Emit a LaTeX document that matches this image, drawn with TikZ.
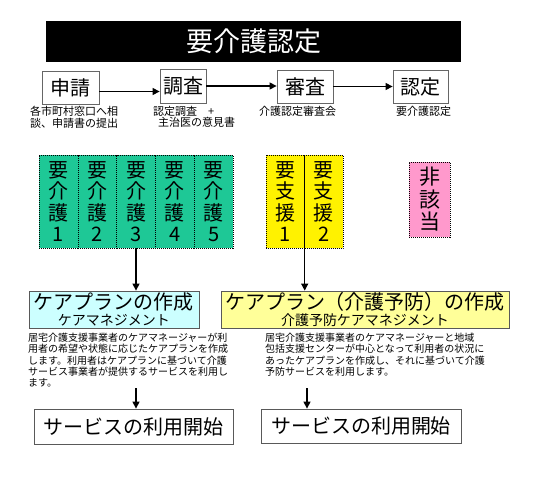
\documentclass[tikz,border=0pt]{standalone}
\usepackage{fontspec}
\setmainfont{Noto Sans CJK JP}
\usetikzlibrary{arrows.meta, positioning}

\definecolor{kaigogreen}{RGB}{30,200,150}
\definecolor{higaipink}{RGB}{255,153,204}
\definecolor{plancyan}{RGB}{204,255,255}
\definecolor{planyellow}{RGB}{255,255,153}

\begin{document}
\begin{tikzpicture}[x=1pt, y=-1pt, >={Triangle[length=7pt,width=7pt]},
    stepbox/.style={draw=black!60, line width=0.8pt, fill=white, inner sep=0pt, minimum height=33pt, font=\fontsize{20}{20}\selectfont},
    note/.style={inner sep=0pt, align=left, anchor=north west, font=\fontsize{11}{11.5}\selectfont},
    levelbox/.style={draw, dash pattern=on 1pt off 1pt, inner sep=0pt, minimum height=93pt, align=center, font=\fontsize{20}{21.5}\selectfont},
    planbox/.style={draw=black!65, line width=0.8pt, inner sep=0pt, minimum height=37pt, align=center, font=\fontsize{20}{16}\selectfont},
    desc/.style={inner sep=0pt, align=left, anchor=north west, font=\fontsize{10}{11.3}\selectfont},
    servicebox/.style={draw=black!65, line width=0.8pt, fill=white, inner sep=0pt, minimum height=35pt, font=\fontsize{20}{20}\selectfont},
    arr/.style={->, line width=1.3pt}]
    \useasboundingbox (0,0) rectangle (550,479);

    \node[fill=black, text=white, minimum width=415pt, minimum height=41pt, inner sep=0pt, font=\fontsize{27}{27}\selectfont] (title) at (253.5,41.5) {要介護認定};

    \node[stepbox, minimum width=57pt] (shinsei) at (70.5,87.5) {申請};
    \node[stepbox, minimum width=46pt, minimum height=34pt] (chousa) at (183,86) {調査};
    \node[stepbox, minimum width=56pt] (shinsa) at (305,86.5) {審査};
    \node[stepbox, minimum width=55pt] (nintei) at (420.5,86.5) {認定};

    \path ([yshift=-4pt]shinsei.east) coordinate (a1);
    \draw[arr] (a1) -- (a1 -| chousa.west);
    \draw[arr] (chousa.east) -- (chousa.east -| shinsa.west);
    \draw[arr] (shinsa.east) -- (shinsa.east -| nintei.west);

    \node[note] (n1) at (30,106) {各市町村窓口へ相\\談、申請書の提出};
    \node[note] (n2) at (153,106) {認定調査　+\\\hspace{5pt}主治医の意見書};
    \node[note] (n3) at (259,106) {介護認定審査会};
    \node[note] (n4) at (396,106) {要介護認定};

    \foreach \i in {1,...,5}
        \node[levelbox, fill=kaigogreen, minimum width=38.8pt] (kaigo\i) at ({39+38.8*(\i-0.5)},201.5) {要\\介\\護\\\i};
    \foreach \i in {1,2}
        \node[levelbox, fill=yellow, minimum width=38.5pt] (shien\i) at ({266+38.5*(\i-0.5)},201.5) {要\\支\\援\\\i};
    \node[levelbox, fill=higaipink, minimum width=41pt, minimum height=75pt, font=\fontsize{21}{22.5}\selectfont] (higaitou) at (429.5,199.5) {非\\該\\当};

    \node[planbox, fill=plancyan, minimum width=170pt] (plan1) at (114,309.5) {ケアプランの作成\\{\fontsize{14}{14}\selectfont ケアマネジメント}};
    \node[planbox, fill=planyellow, minimum width=288pt] (plan2) at (365,309.5) {ケアプラン（介護予防）の作成\\{\fontsize{14}{14}\selectfont 介護予防ケアマネジメント}};

    \draw[arr] (kaigo3.south) -- (kaigo3.south |- plan1.north);
    \draw[arr] (shien1.south east) -- (shien1.south east |- plan2.north);

    \node[desc] (d1) at (28,333) {居宅介護支援事業者のケアマネージャーが利\\用者の希望や状態に応じたケアプランを作成\\します。利用者はケアプランに基づいて介護\\サービス事業者が提供するサービスを利用し\\ます。};
    \node[desc] (d2) at (265,333) {居宅介護支援事業者のケアマネージャーと地域\\包括支援センターが中心となって利用者の状況に\\あったケアプランを作成し、それに基づいて介護\\予防サービスを利用します。};

    \node[servicebox, minimum width=199pt] (service1) at (133.5,426.5) {サービスの利用開始};
    \node[servicebox, minimum width=200pt, minimum height=34pt] (service2) at (361,426) {サービスの利用開始};

    \coordinate (c1) at (136,388);
    \coordinate (c2) at (307,388);
    \draw[arr] (c1) -- (c1 |- service1.north);
    \draw[arr] (c2) -- (c2 |- service2.north);
\end{tikzpicture}
\end{document}
